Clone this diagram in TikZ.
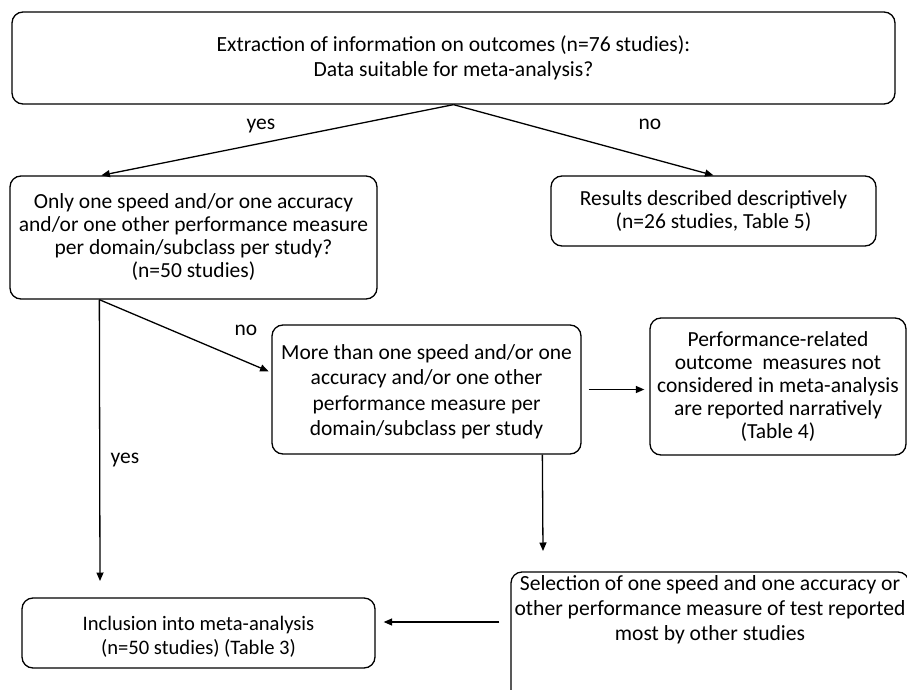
\documentclass[tikz,border=0pt]{standalone}
\usepackage{fontspec}
\setmainfont{Carlito}
\usetikzlibrary{arrows.meta,calc}
\tikzset{
  box/.style={draw, rounded corners=11pt, line width=1.3pt, align=center, inner sep=0pt, font=\fontsize{21.5}{23}\selectfont},
  arr/.style={line width=1.3pt, -{Triangle[length=8.5pt,width=7pt]}},
  lbl/.style={font=\fontsize{21.5}{23}\selectfont, inner sep=0pt},
}
\begin{document}
\begin{tikzpicture}[x=1pt,y=-1pt]
\useasboundingbox (0,0) rectangle (907,690);
\clip (0,0) rectangle (907,690);
\node[box, minimum width=883pt, minimum height=92pt, font=\fontsize{21.6}{25}\selectfont] (box1) at (453.5,58)
  {Extraction of information on outcomes (n=76 studies):\\Data suitable for meta-analysis?};
\node[box, minimum width=367pt, minimum height=123pt] (box2) at (193.5,237.5)
  {Only one speed and/or one accuracy\\and/or one other performance measure\\per domain/subclass per study?\\(n=50 studies)};
\node[box, minimum width=325pt, minimum height=70pt] (boxR) at (713.5,211)
  {Results described descriptively\\(n=26 studies, Table 5)};
\node[box, minimum width=309pt, minimum height=129pt, font=\fontsize{21.5}{25.5}\selectfont] (box3) at (426.5,389.5)
  {\raisebox{-8pt}[0pt][0pt]{\begin{tabular}{@{}c@{}}More than one speed and/or one\\accuracy and/or one other\\performance measure per\\domain/subclass per study\end{tabular}}};
\node[box, minimum width=256pt, minimum height=137pt] (box4) at (778,386.5)
  {Performance-related\\outcome\ \ measures not\\considered in meta-analysis\\are reported narratively\\(Table 4)};
\node[box, minimum width=353pt, minimum height=70pt, font=\fontsize{20.6}{24}\selectfont] (box6) at (198.5,633)
  {\raisebox{-10pt}[0pt][0pt]{\begin{tabular}{@{}c@{}}Inclusion into meta-analysis\\(n=50 studies) (Table 3)\end{tabular}}};
\node[box, minimum width=398pt, minimum height=160pt] (box5) at (710,652) {};
\node[lbl, align=center, font=\fontsize{21.6}{25}\selectfont] (t5) at (710,610)
  {Selection of one speed and one accuracy or\\other performance measure of test reported\\most by other studies};
% labels
\node[lbl] (ly1) at (261,126) {yes};
\node[lbl] (ln1) at (650,124) {no};
\node[lbl] (ln2) at (246,330) {no};
\node[lbl] (ly2) at (125,460) {yes};
% connectors
\draw[arr] (box1.south) -- ([xshift=92pt]box2.north west);
\draw[arr] (box1.south) -- (boxR.north);
\coordinate (yesend) at (100,581);
\draw[arr] ([xshift=90pt]box2.south west) -- (yesend);
\draw[arr, shorten >=3pt] ([xshift=90pt]box2.south west) -- ([yshift=17pt]box3.west);
\draw[arr, shorten <=7pt, shorten >=5pt] (box3.east) -- (box4.west |- box3.east);
\coordinate (downend) at (543,551);
\draw[arr] ([xshift=271pt]box3.south west) -- (downend);
\coordinate (m6) at ([yshift=11pt]box6.east);
\draw[arr, shorten <=11pt, shorten >=8pt] (box5.west |- m6) -- (m6);
\end{tikzpicture}
\end{document}
